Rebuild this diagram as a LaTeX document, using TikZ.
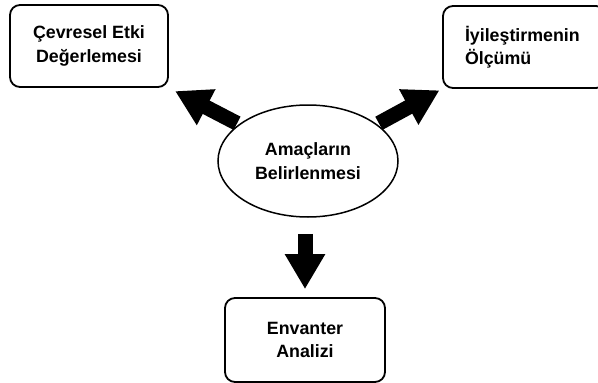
\documentclass[tikz,border=0pt]{standalone}
\usepackage{fontspec}
\setmainfont{Liberation Sans}
\usetikzlibrary{shapes.geometric,arrows.meta}
\begin{document}
\begin{tikzpicture}[x=1pt,y=-1pt,
  lbl/.style={font=\bfseries\fontsize{17.8}{23.5}\selectfont},
  stagebox/.style={lbl,draw,line width=1.8pt,rounded corners=10pt,
    minimum width=#1,minimum height=82pt,inner sep=0pt},
  goalshape/.style={lbl,draw,ellipse,line width=1.5pt,
    minimum width=180pt,minimum height=112pt,inner sep=0pt,align=center},
  bigarrow/.style={line width=15pt,
    -{Triangle[width=38pt,length=35pt]}}
]
\useasboundingbox (0,0) rectangle (598,383);
\clip (0,0) rectangle (598,383);

% central goal and the three stages around it
\node[goalshape] (goal) at (308,161) {Amaçların\\Belirlenmesi};
\node[stagebox=158pt,align=center] (cev) at (89,46) {Çevresel Etki\\Değerlemesi};
\node[stagebox=163pt,align=left,text width=119pt,inner xsep=22pt] (olc) at (524.5,47) {İyileştirmenin\\Ölçümü};
\node[stagebox=160pt,minimum height=84pt,align=center] (env) at (305,340) {Envanter\\Analizi};

% thick block arrows leaving the goal
\draw[bigarrow,shorten <=2pt,shorten >=7pt] (goal.152) -- (cev.south east);
\draw[bigarrow,shorten <=2pt,shorten >=3pt] (goal.28) -- (olc.south west);
\draw[bigarrow,shorten <=16pt,shorten >=8pt] (env.north |- goal.south) -- (env.north);
\end{tikzpicture}
\end{document}
